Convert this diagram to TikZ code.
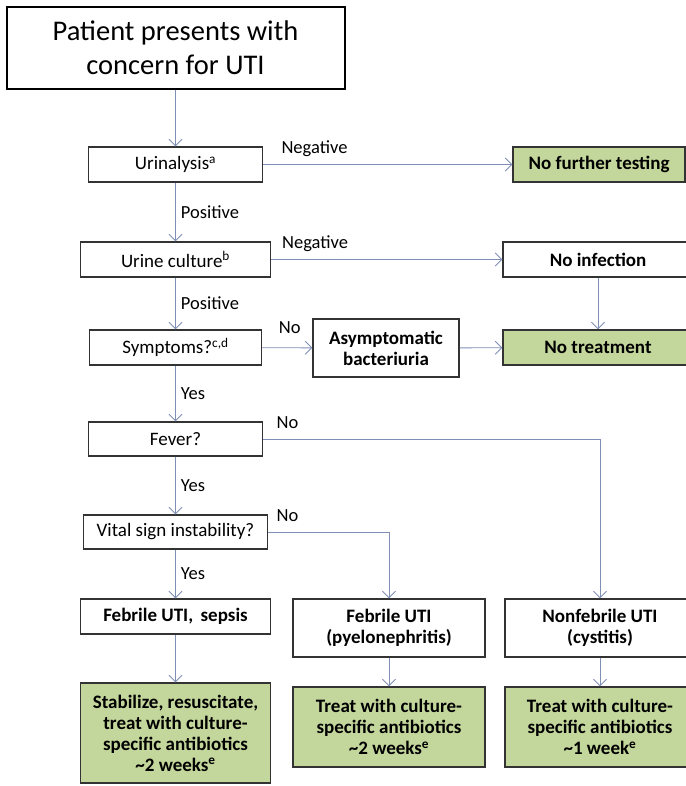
\documentclass[tikz,border=0pt]{standalone}
\usepackage{fontspec}
\setmainfont{Carlito}
\usetikzlibrary{arrows.meta}

\definecolor{boxgreen}{HTML}{C3D69B}
\definecolor{linkblue}{HTML}{7F8FB5}

\begin{document}
\begin{tikzpicture}[x=1pt, y=-1pt,
  box/.style={draw=black!80, line width=1.3pt, fill=white, align=center, inner sep=0pt,
    font=\fontsize{19}{21}\selectfont},
  boldbox/.style={box, font=\fontsize{19}{21}\selectfont\bfseries},
  greenbox/.style={boldbox, fill=boxgreen},
  lbl/.style={font=\fontsize{18.5}{21}\selectfont, inner sep=2pt},
  uplbl/.style={lbl, anchor=base, yshift=11pt},
  arr/.style={draw=linkblue, line width=0.9pt, -{Straight Barb[length=6.5pt, width=13pt]}}
]

\useasboundingbox (0,0) rectangle (685,786);

% left column
\node[box, line width=2pt, draw=black, minimum width=338, minimum height=82,
  font=\fontsize{28.5}{34}\selectfont] (patient) at (175.5,48) {Patient presents with\\concern for UTI};
\node[box, minimum width=174, minimum height=35] (urinalysis) at (175.5,164.5) {Urinalysis\textsuperscript{a}};
\node[box, minimum width=190, minimum height=35] (culture) at (175.5,259.5) {Urine culture\textsuperscript{b}};
\node[box, minimum width=172, minimum height=35] (symptoms) at (175.5,347.5) {Symptoms?\textsuperscript{c,d}};
\node[box, minimum width=174, minimum height=34] (fever) at (175.5,439) {Fever?};
\node[box, minimum width=184, minimum height=34] (vital) at (175.5,532) {Vital sign instability?};
\node[boldbox, minimum width=190, minimum height=35] (sepsis) at (175.5,616.5) {Febrile UTI,\, sepsis};
\node[greenbox, minimum width=190, minimum height=100] (treatsepsis) at (175.5,733)
  {Stabilize, resuscitate,\\treat with culture-\\specific antibiotics\\\textasciitilde 2 weeks\textsuperscript{e}};

% middle and right columns
\node[greenbox, minimum width=172, minimum height=35] (nofurther) at (599,164.5) {No further testing};
\node[boldbox, minimum width=190, minimum height=35] (noinfection) at (598,259.5) {No infection};
\node[boldbox, minimum width=146, minimum height=58] (asymptomatic) at (386,348) {Asymptomatic\\bacteriuria};
\node[greenbox, minimum width=190, minimum height=35] (notreatment) at (598,347.5) {No treatment};
\node[boldbox, minimum width=192, minimum height=58] (pyelo) at (389,628) {Febrile UTI\\(pyelonephritis)};
\node[boldbox, minimum width=190, minimum height=58] (cystitis) at (600,628) {Nonfebrile UTI\\(cystitis)};
\node[greenbox, minimum width=192, minimum height=80] (treatpyelo) at (389,727)
  {Treat with culture-\\specific antibiotics\\\textasciitilde 2 weeks\textsuperscript{e}};
\node[greenbox, minimum width=190, minimum height=80] (treatcyst) at (600,727)
  {Treat with culture-\\specific antibiotics\\\textasciitilde 1 week\textsuperscript{e}};

% connectors
\draw[arr] (patient) -- (urinalysis);
\draw[arr] (urinalysis) -- node[uplbl, pos=0.206] {Negative} (nofurther);
\draw[arr] (urinalysis) -- node[lbl, right=3pt] {Positive} (culture);
\draw[arr] (culture) -- node[uplbl, pos=0.19] {Negative} (noinfection);
\draw[arr] (noinfection) -- (notreatment);
\draw[arr] (culture) -- node[lbl, right=3pt] {Positive} (symptoms);
\draw[arr] (symptoms) -- node[uplbl, pos=0.55, yshift=3pt] {No} (asymptomatic);
\draw[arr] (asymptomatic) -- (notreatment);
\draw[arr] (symptoms) -- node[lbl, right=3pt] {Yes} (fever);
\draw[arr] (fever.east) -| node[uplbl, pos=0.036] {No} (cystitis.north);
\draw[arr] (fever) -- node[lbl, right=3pt] {Yes} (vital);
\draw[arr] (vital.east) -| node[uplbl, pos=0.08] {No} (pyelo.north);
\draw[arr] (vital) -- node[lbl, right=3pt] {Yes} (sepsis);
\draw[arr] (sepsis) -- (treatsepsis);
\draw[arr] (pyelo) -- (treatpyelo);
\draw[arr] (cystitis) -- (treatcyst);

\end{tikzpicture}
\end{document}
